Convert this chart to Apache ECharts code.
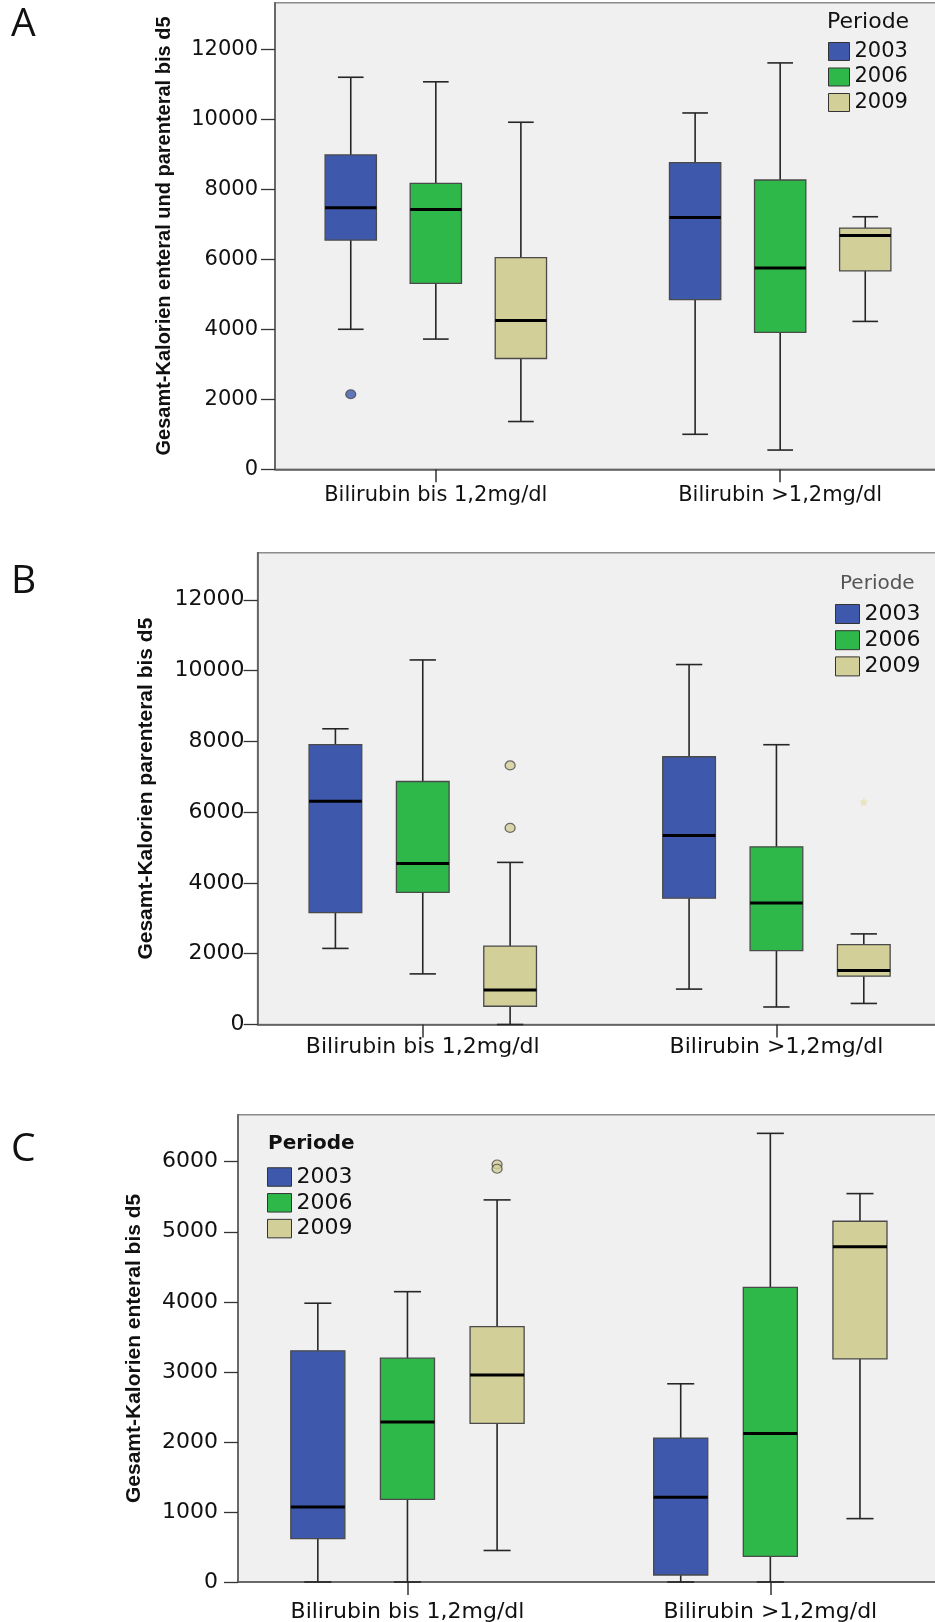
<!DOCTYPE html>
<html><head><meta charset="utf-8">
<script src="https://cdn.jsdelivr.net/npm/echarts@6/dist/echarts.min.js"></script>
<style>html,body{margin:0;padding:0;background:#fff}#c{width:935px;height:1622px}</style>
</head><body><div id="c"></div>
<script>
// ---------- data ----------
const categories = ['Bilirubin bis 1,2mg/dl', 'Bilirubin >1,2mg/dl'];
const periods = ['2003', '2006', '2009'];
const colors = ['#3e58ab', '#2eb84a', '#d3cf98'];

// Panel A: [min, Q1, median, Q3, max] per category
const A_2003 = [[4000, 6550, 7475, 8980, 11200], [1000, 4845, 7190, 8760, 10180]];
const A_2006 = [[3720, 5310, 7425, 8170, 11070], [550, 3910, 5750, 8265, 11610]];
const A_2009 = [[1365, 3165, 4250, 6045, 9915], [4225, 5670, 6680, 6890, 7215]];
const A_outliers = [[0, 0, 2145]];               // [category, period, value]

// Panel B
const B_2003 = [[2150, 3160, 6310, 7905, 8355], [1000, 3570, 5340, 7565, 10170]];
const B_2006 = [[1430, 3735, 4550, 6865, 10300], [495, 2090, 3435, 5020, 7905]];
const B_2009 = [[0, 515, 975, 2215, 4580], [595, 1365, 1525, 2255, 2560]];
const B_outliers = [[0, 2, 7320], [0, 2, 5555]];
const B_extremes = [[1, 2, 6295]];

// Panel C
const C_2003 = [[0, 620, 1070, 3300, 3980], [0, 100, 1210, 2055, 2830]];
const C_2006 = [[0, 1180, 2285, 3195, 4145], [0, 365, 2120, 4205, 6405]];
const C_2009 = [[450, 2265, 2955, 3645, 5455], [905, 3185, 4785, 5150, 5545]];
const C_outliers = [[0, 2, 5960], [0, 2, 5900]];

const yTicksAB = [0, 2000, 4000, 6000, 8000, 10000, 12000];
const yTicksC = [0, 1000, 2000, 3000, 4000, 5000, 6000];
const yMaxAB = 13330, yMaxC = 6670;

const yTitles = ['Gesamt-Kalorien enteral und parenteral bis d5',
                 'Gesamt-Kalorien parenteral bis d5',
                 'Gesamt-Kalorien enteral bis d5'];
const panelLetters = ['A', 'B', 'C'];

// ---------- layout / style ----------
const STEP = 0.247, BOX_W = 0.149, XMIN = 0.533, XMAX = 2.467;
const FONT = 'DejaVu Sans';

const panels = [
  {grid: {left: 275, top: 2.7, width: 666, height: 466.6}, ymax: yMaxAB, ticks: yTicksAB,
   boxes: [A_2003, A_2006, A_2009], outliers: A_outliers, extremes: [],
   tickFont: 21, catFont: 21, catMargin: 16, yMargin: 17, nameGap: 101, nameFont: 20,
   letterTop: 5, periode: {left: 827, top: 11, size: 22, color: '#111', weight: 'normal'},
   legend: {left: 828, top: 41, w: 21, h: 18, gap: 4.5, size: 21}},
  {grid: {left: 257.6, top: 552.7, width: 684, height: 471.8}, ymax: yMaxAB, ticks: yTicksAB,
   boxes: [B_2003, B_2006, B_2009], outliers: B_outliers, extremes: B_extremes,
   tickFont: 22, catFont: 22, catMargin: 12, yMargin: 13, nameGap: 101, nameFont: 21,
   letterTop: 562, periode: {left: 840, top: 574, size: 20, color: '#555', weight: 'normal'},
   legend: {left: 835, top: 603, w: 24, h: 19, gap: 4.2, size: 22}},
  {grid: {left: 238, top: 1114.8, width: 701.8, height: 467.2}, ymax: yMaxC, ticks: yTicksC,
   boxes: [C_2003, C_2006, C_2009], outliers: C_outliers, extremes: [],
   tickFont: 22, catFont: 22, catMargin: 19, yMargin: 20, nameGap: 93, nameFont: 21,
   letterTop: 1130, periode: {left: 268, top: 1134, size: 20, color: '#111', weight: 'bold'},
   legend: {left: 267, top: 1166, w: 24, h: 18.5, gap: 3.8, size: 22}}
];

function boxSeries(name, color, rows, periodIdx, g) {
  const off = (periodIdx - 1) * STEP;
  return {
    type: 'custom', name: name, xAxisIndex: g, yAxisIndex: g,
    itemStyle: {color: color},
    encode: {x: 0, y: [1, 2, 3, 4, 5]},
    data: rows.map((d, i) => [i + 1].concat(d)),
    renderItem: function (params, api) {
      const pos = api.value(0) + off;
      const p = k => api.coord([pos, api.value(k)]);
      const lo = p(1), q1 = p(2), md = p(3), q3 = p(4), hi = p(5);
      const w = api.size([BOX_W, 0])[0];
      const x = lo[0];
      const ls = {stroke: '#262626', lineWidth: 1.6};
      return {type: 'group', children: [
        {type: 'line', shape: {x1: x, y1: hi[1], x2: x, y2: q3[1]}, style: ls},
        {type: 'line', shape: {x1: x, y1: q1[1], x2: x, y2: lo[1]}, style: ls},
        {type: 'line', shape: {x1: x - w / 4, y1: hi[1], x2: x + w / 4, y2: hi[1]}, style: ls},
        {type: 'line', shape: {x1: x - w / 4, y1: lo[1], x2: x + w / 4, y2: lo[1]}, style: ls},
        {type: 'rect', shape: {x: x - w / 2, y: q3[1], width: w, height: q1[1] - q3[1]},
         style: {fill: color, stroke: '#4a4a4a', lineWidth: 1.3}},
        {type: 'line', shape: {x1: x - w / 2, y1: md[1], x2: x + w / 2, y2: md[1]},
         style: {stroke: '#000', lineWidth: 3}}
      ]};
    }
  };
}

const STAR = 'path://M0,-10L2.35,-3.24L9.51,-3.09L3.8,1.24L5.88,8.09L0,4L-5.88,8.09L-3.8,1.24L-9.51,-3.09L-2.35,-3.24Z';

const option = {
  backgroundColor: '#ffffff',
  animation: false,
  grid: [], xAxis: [], yAxis: [], series: [], legend: [], title: []
};

panels.forEach((pn, g) => {
  option.grid.push(Object.assign({show: true, backgroundColor: '#f0f0f0', borderColor: '#8c8c8c',
    borderWidth: 1.5, containLabel: false, outerBoundsMode: 'none'}, pn.grid));
  option.xAxis.push({
    gridIndex: g, type: 'value', min: XMIN, max: XMAX,
    axisLine: {show: true, onZero: false, lineStyle: {color: '#555', width: 1.5}},
    axisTick: {show: true, customValues: [1, 2], length: 13, lineStyle: {color: '#333', width: 1.5}},
    axisLabel: {customValues: [1, 2], formatter: v => categories[Math.round(v) - 1] || '',
      margin: pn.catMargin, fontFamily: FONT, fontSize: pn.catFont, color: '#111'},
    splitLine: {show: false}
  });
  option.yAxis.push({
    gridIndex: g, type: 'value', min: 0, max: pn.ymax,
    name: yTitles[g], nameLocation: 'middle', nameRotate: 90, nameGap: pn.nameGap,
    nameTextStyle: {fontFamily: 'Liberation Sans', fontWeight: 'bold', fontSize: pn.nameFont, color: '#111'},
    axisLine: {show: true, onZero: false, lineStyle: {color: '#555', width: 1.5}},
    axisTick: {show: true, customValues: pn.ticks, length: 14, lineStyle: {color: '#333', width: 1.3}},
    axisLabel: {customValues: pn.ticks, formatter: v => String(v), margin: pn.yMargin,
      fontFamily: FONT, fontSize: pn.tickFont, color: '#111'},
    splitLine: {show: false}
  });
  pn.boxes.forEach((rows, pi) => option.series.push(boxSeries(periods[pi], colors[pi], rows, pi, g)));
  if (pn.outliers.length) {
    option.series.push({
      type: 'scatter', name: 'Ausreißer', xAxisIndex: g, yAxisIndex: g, symbol: 'circle', symbolSize: [10, 9],
      itemStyle: {borderColor: '#4a4a4a', borderWidth: 1.2}, z: 5,
      data: pn.outliers.map(([c, p, v]) => ({value: [c + 1 + (p - 1) * STEP, v], itemStyle: {color: colors[p]}}))
    });
  }
  if (pn.extremes.length) {
    option.series.push({
      type: 'scatter', name: 'Extremwert', xAxisIndex: g, yAxisIndex: g, symbol: STAR, symbolSize: 10, z: 5,
      data: pn.extremes.map(([c, p, v]) => ({value: [c + 1 + (p - 1) * STEP, v], itemStyle: {color: '#e6e0b4'}}))
    });
  }
  const lg = pn.legend;
  option.legend.push({
    data: periods, orient: 'vertical', left: lg.left, top: lg.top, padding: 0,
    itemWidth: lg.w, itemHeight: lg.h, itemGap: lg.gap, icon: 'rect', selectedMode: false,
    itemStyle: {borderColor: '#333', borderWidth: 1},
    textStyle: {fontFamily: FONT, fontSize: lg.size, color: '#111'}
  });
  option.title.push({text: panelLetters[g], left: 11, top: pn.letterTop, padding: 0,
    textStyle: {fontFamily: 'Open Sans', fontWeight: 'normal', fontSize: 39, color: '#111'}});
  option.title.push({text: 'Periode', left: pn.periode.left, top: pn.periode.top, padding: 0,
    textStyle: {fontFamily: FONT, fontWeight: pn.periode.weight, fontSize: pn.periode.size, color: pn.periode.color}});
});

const chart = echarts.init(document.getElementById('c'), null, {renderer: 'canvas', width: 935, height: 1622});
chart.setOption(option);
</script>
</body></html>
